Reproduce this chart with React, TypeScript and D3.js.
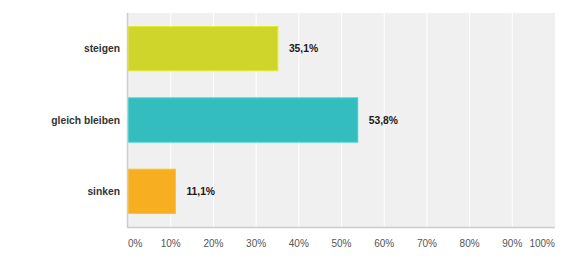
import React from "react";
import * as d3 from "d3";

const categories = ["steigen", "gleich bleiben", "sinken"];
const values = [35.1, 53.8, 11.1];
const valueLabels = ["35,1%", "53,8%", "11,1%"];
const colors = ["#CFD52A", "#33BDBE", "#F7AE20"];
const ticks = [0, 10, 20, 30, 40, 50, 60, 70, 80, 90, 100];

const W = 580;
const H = 261;
const margin = { left: 128, right: 25, top: 13, bottom: 34 };

export default function App() {
  const x = d3.scaleLinear().domain([0, 100]).range([margin.left, W - margin.right]);
  const y = d3
    .scaleBand<string>()
    .domain(categories)
    .range([margin.top, H - margin.bottom])
    .paddingInner(0.38)
    .paddingOuter(0.19);
  const font = "Arial, 'Liberation Sans', sans-serif";
  return (
    <svg
      width={W}
      height={H}
      style={{ position: "absolute", left: 0, top: 0, background: "#fff" }}
      fontFamily={font}
    >
      <rect
        x={margin.left}
        y={margin.top}
        width={x(100) - x(0)}
        height={H - margin.bottom - margin.top}
        fill="#F0F0F0"
      />
      {ticks.slice(1, -1).map((t) => (
        <line key={t} x1={x(t)} x2={x(t)} y1={margin.top} y2={H - margin.bottom} stroke="#fff" strokeWidth={1} />
      ))}
      {categories.map((c, i) => (
        <g key={c}>
          <rect
            x={x(0)}
            y={y(c)!}
            width={x(values[i]) - x(0)}
            height={y.bandwidth()}
            fill={colors[i]}
            stroke={d3.color(colors[i])!.brighter(0.3).toString()}
            strokeWidth={1}
          />
          <text
            x={x(values[i]) + 11}
            y={y(c)! + y.bandwidth() / 2}
            dy="0.35em"
            fontSize={10.3}
            fontWeight="bold"
            fill="#1a1a1a"
          >
            {valueLabels[i]}
          </text>
          <text
            x={margin.left - 8}
            y={y(c)! + y.bandwidth() / 2}
            dy="0.35em"
            textAnchor="end"
            fontSize={10.3}
            fontWeight="bold"
            fill="#333"
          >
            {c}
          </text>
        </g>
      ))}
      <line x1={margin.left - 0.5} x2={margin.left - 0.5} y1={margin.top} y2={H - margin.bottom + 0.5} stroke="#CCCCCC" strokeWidth={1.5} />
      <line x1={margin.left - 1} x2={x(100)} y1={H - margin.bottom + 0.5} y2={H - margin.bottom + 0.5} stroke="#CCCCCC" strokeWidth={1.5} />
      {ticks.map((t, i) => (
        <text
          key={t}
          x={x(t)}
          y={243}
          dy="0.35em"
          textAnchor={i === 0 ? "start" : i === ticks.length - 1 ? "end" : "middle"}
          fontSize={10}
          fill="#555"
        >
          {t + "%"}
        </text>
      ))}
    </svg>
  );
}
